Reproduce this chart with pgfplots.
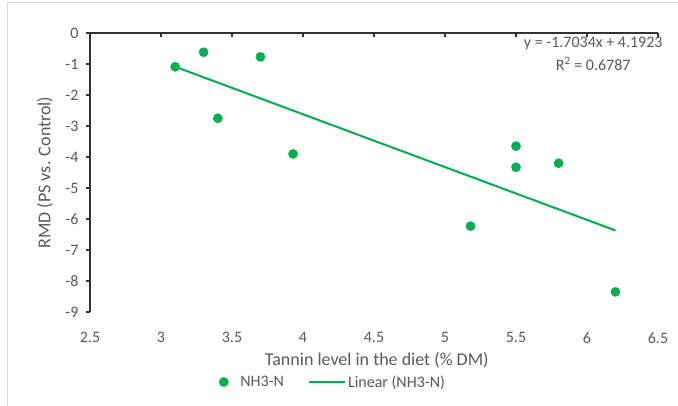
\documentclass[border=0pt]{standalone}
\usepackage{pgfplots}
\pgfplotsset{compat=1.18}
\usepackage{fontspec}
\setmainfont{Carlito}
\definecolor{xgreen}{RGB}{0,176,80}
\definecolor{txt}{RGB}{89,89,89}
\definecolor{axc}{RGB}{50,50,50}
\pgfplotsset{longline/.style={legend image code/.code={\draw[##1] (0pt,0pt) -- (36pt,0pt);}}}
\begin{document}
\begin{tikzpicture}[x=1pt,y=1pt]
\useasboundingbox (0,0) rectangle (678,406);
\draw[black!15, line width=1pt] (7,-10) -- (7,403) -- (690,403);
\begin{axis}[
  at={(90pt,94pt)}, anchor=south west,
  scale only axis, width=568pt, height=279pt,
  xmin=2.5, xmax=6.5, ymin=-9, ymax=0,
  xtick={2.5,3,3.5,4,4.5,5,5.5,6,6.5},
  ytick={-9,-8,-7,-6,-5,-4,-3,-2,-1,0},
  xticklabels={2.5,3,3.5,4,4.5,5,5.5,6,6.5},
  axis line style={draw=none},
  xtick pos=right, xticklabel pos=left,
  ytick pos=left,
  tick align=inside,
  major tick length=4pt,
  tick style={axc, line width=1.2pt},
  y tick style={xshift=-4pt},
  /pgf/number format/assume math mode=true,
  ticklabel style={font=\fontsize{16}{18}\selectfont, text=txt},
  xticklabel style={yshift=-17pt},
  yticklabel style={xshift=-8pt},
  xlabel={Tannin level in the diet (\% DM)},
  ylabel={RMD (PS vs. Control)},
  label style={font=\fontsize{18}{20}\selectfont, text=txt},
  xlabel style={at={(axis description cs:0.505,-0.173)}, anchor=center},
  ylabel style={at={(axis description cs:-0.079,0.5)}, anchor=center},
  legend columns=2,
  legend style={at={(axis description cs:0.428,-0.251)}, anchor=center, draw=none,
    font=\fontsize{16}{18}\selectfont, text=txt,
    /tikz/every even column/.append style={column sep=22pt}},
  clip=false,
]
\addplot[only marks, mark=*, mark size=4.6pt, color=xgreen] coordinates {
  (3.1,-1.09) (3.3,-0.62) (3.7,-0.77) (3.4,-2.75) (3.93,-3.9)
  (5.5,-3.65) (5.5,-4.33) (5.8,-4.2) (5.18,-6.23) (6.2,-8.35)
};
\addlegendentry{\hspace{10pt}NH3-N}
\addplot[color=xgreen, line width=2pt, no marks, longline] coordinates {
  (3.1,-1.0882) (6.2,-6.3688)
};
\addlegendentry{Linear (NH3-N)}
\draw[axc, line width=1.2pt] (axis cs:2.5,-9) -- (axis cs:2.5,0) -- (axis cs:6.5,0);
\node[font=\fontsize{16}{18}\selectfont, text=txt] at (axis description cs:0.886,0.961) {y = -1.7034x + 4.1923};
\node[font=\fontsize{16}{18}\selectfont, text=txt] at (axis description cs:0.886,0.889) {R\textsuperscript{2} = 0.6787};
\end{axis}
\end{tikzpicture}
\end{document}
